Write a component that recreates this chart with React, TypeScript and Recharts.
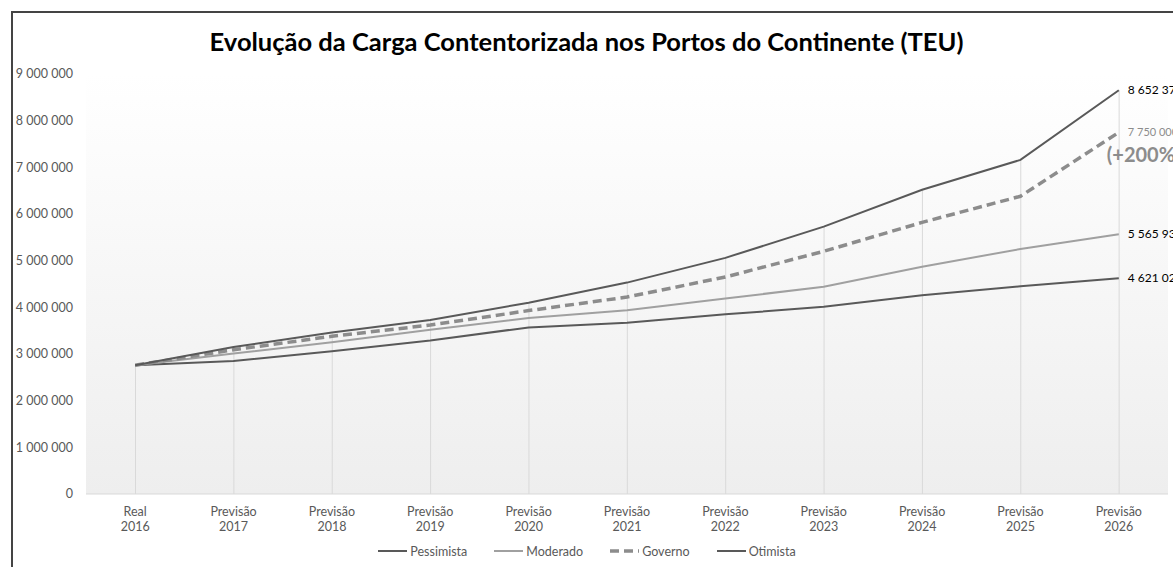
import { ComposedChart, Line, Bar, XAxis, YAxis, CartesianGrid, Legend, LabelList } from 'recharts'

// Categorias (eixo X em duas linhas)
const phases = ['Real', 'Previsão', 'Previsão', 'Previsão', 'Previsão', 'Previsão', 'Previsão', 'Previsão', 'Previsão', 'Previsão', 'Previsão']
const years = ['2016', '2017', '2018', '2019', '2020', '2021', '2022', '2023', '2024', '2025', '2026']

// TEU por cenário
const pessimista = [2760000, 2850000, 3060000, 3290000, 3570000, 3670000, 3850000, 4010000, 4260000, 4450000, 4621025]
const moderado = [2760000, 3010000, 3250000, 3520000, 3770000, 3940000, 4190000, 4440000, 4870000, 5250000, 5565932]
const governo = [2760000, 3090000, 3380000, 3620000, 3930000, 4220000, 4650000, 5200000, 5820000, 6380000, 7750000]
const otimista = [2760000, 3150000, 3460000, 3730000, 4100000, 4530000, 5060000, 5730000, 6520000, 7160000, 8652374]

const yTicks = [0, 1000000, 2000000, 3000000, 4000000, 5000000, 6000000, 7000000, 8000000, 9000000]

const FONT = 'Lato, "Open Sans", sans-serif'
const TEXT = '#595959'

const data = years.map((year, i) => ({
  year,
  Pessimista: pessimista[i],
  Moderado: moderado[i],
  Governo: governo[i],
  Otimista: otimista[i],
}))

const SERIES = [
  { key: 'Pessimista', color: '#595959', width: 2, dash: undefined as string | undefined },
  { key: 'Moderado', color: '#a0a0a0', width: 2, dash: undefined as string | undefined },
  { key: 'Governo', color: '#8c8c8c', width: 3.5, dash: '9 5' },
  { key: 'Otimista', color: '#595959', width: 2, dash: undefined as string | undefined },
]

const fmt = (v: number) => String(Math.round(v)).replace(/\B(?=(\d{3})+(?!\d))/g, ' ')

function CategoryTick({ x, y, payload }: any) {
  const i = years.indexOf(payload.value)
  return (
    <text x={x} y={y} textAnchor="middle" fill={TEXT} fontSize={12.5} fontFamily={FONT}>
      <tspan x={x} dy={20}>{phases[i]}</tspan>
      <tspan x={x} dy={15}>{payload.value}</tspan>
    </text>
  )
}

const last = years.length - 1

function endLabel(color: string, extra?: string) {
  return (props: any) => {
    const { x, y, value, index } = props
    if (index !== last) return null
    return (
      <g>
        <text x={x + 9} y={y} dy={4} fill={color} fontSize={extra ? 11 : 12} fontFamily={FONT}>
          {fmt(value)}
        </text>
        {extra && (
          <text x={x - 12} y={y} dy={30} fill="#8c8c8c" fontSize={20} fontWeight="bold" fontFamily={FONT}>
            {extra}
          </text>
        )}
      </g>
    )
  }
}

function LegendBox() {
  return (
    <div style={{ height: 24, display: 'flex', justifyContent: 'center', alignItems: 'center', gap: 26, fontFamily: FONT, fontSize: 12.5, color: TEXT }}>
      {SERIES.map((s) => (
        <div key={s.key} style={{ display: 'flex', alignItems: 'center', gap: 2 }}>
          <svg width={31} height={8}>
            <line x1={1} y1={4} x2={30} y2={4} stroke={s.color} strokeWidth={s.width} strokeDasharray={s.dash} />
          </svg>
          <span>{s.key}</span>
        </div>
      ))}
    </div>
  )
}

export default function App() {
  return (
    <div style={{ position: 'relative', width: 1173, height: 567, overflow: 'hidden', background: '#fff' }}>
      <style>{`body{margin:0}`}</style>
      <div style={{ position: 'absolute', left: 11, top: 11, width: 1200, height: 600, borderLeft: '2px solid #444', borderTop: '2px solid #444' }} />
      <div style={{ position: 'absolute', left: 0, top: 26, width: 1173, textAlign: 'center', fontFamily: FONT, fontWeight: 'bold', fontSize: 25.5, color: '#000' }}>
        Evolução da Carga Contentorizada nos Portos do Continente (TEU)
      </div>
      <div style={{ position: 'absolute', left: 0, top: 0 }}>
        <ComposedChart width={1173} height={567} data={data} margin={{ top: 74, right: 5, bottom: 0, left: 0 }}>
          <defs>
            <linearGradient id="plotBg" x1="0" y1="0" x2="0" y2="1">
              <stop offset="0%" stopColor="#ffffff" />
              <stop offset="100%" stopColor="#eeeeee" />
            </linearGradient>
          </defs>
          <CartesianGrid horizontal={false} vertical={false} fill="url(#plotBg)" />
          <XAxis dataKey="year" height={49} tick={<CategoryTick />} tickLine={false} tickSize={0} axisLine={{ stroke: '#d9d9d9' }} interval={0} />
          <YAxis
            width={86}
            domain={[0, 9000000]}
            ticks={yTicks}
            tickFormatter={fmt}
            tickLine={false}
            tickSize={0}
            tickMargin={13}
            axisLine={false}
            tick={{ fill: TEXT, fontSize: 12.5, fontFamily: FONT }}
          />
          <Legend verticalAlign="bottom" content={<LegendBox />} wrapperStyle={{ left: 0, width: 1173, top: 539 }} />
          <Bar dataKey="Otimista" barSize={1} fill="#d9d9d9" isAnimationActive={false} legendType="none" />
          <Line type="linear" dataKey="Pessimista" stroke="#595959" strokeWidth={2} dot={false} isAnimationActive={false}>
            <LabelList dataKey="Pessimista" content={endLabel('#000')} />
          </Line>
          <Line type="linear" dataKey="Moderado" stroke="#a0a0a0" strokeWidth={2} dot={false} isAnimationActive={false}>
            <LabelList dataKey="Moderado" content={endLabel('#000')} />
          </Line>
          <Line type="linear" dataKey="Governo" stroke="#8c8c8c" strokeWidth={3.5} strokeDasharray="9 5" dot={false} isAnimationActive={false}>
            <LabelList dataKey="Governo" content={endLabel('#8c8c8c', '(+200%)')} />
          </Line>
          <Line type="linear" dataKey="Otimista" stroke="#595959" strokeWidth={2} dot={false} isAnimationActive={false}>
            <LabelList dataKey="Otimista" content={endLabel('#000')} />
          </Line>
        </ComposedChart>
      </div>
    </div>
  )
}
